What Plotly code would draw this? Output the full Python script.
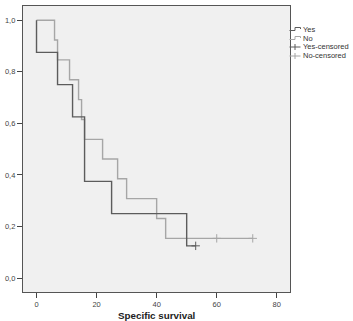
import plotly.graph_objects as go

# ---- data ----
yes_time = [0, 0, 7, 12, 16, 25, 50, 53]
yes_surv = [1.0, 0.875, 0.75, 0.625, 0.375, 0.25, 0.125, 0.125]
yes_cens_time = [53]
yes_cens_surv = [0.125]

no_time = [0, 6, 7, 11, 14, 15, 16, 22, 27, 30, 40, 43, 72]
no_surv = [1.0, 0.923, 0.846, 0.769, 0.692, 0.615, 0.538, 0.462, 0.385, 0.308, 0.231, 0.154, 0.154]
no_cens_time = [60, 72]
no_cens_surv = [0.154, 0.154]

legend_labels = ["Yes", "No", "Yes-censored", "No-censored"]
x_ticks = [0, 20, 40, 60, 80]
y_ticks = [0.0, 0.2, 0.4, 0.6, 0.8, 1.0]
x_title = "Specific survival"

DARK = "#5c5c5c"
LIGHT = "#a6a6a6"

W, H = 353, 321
L, R, T, B = 23, 63, 6, 29
pw, ph = W - L - R, H - T - B


def px(x):
    return (x - L) / pw


def py(y):
    return (H - B - y) / ph


fig = go.Figure()
fig.add_trace(go.Scatter(x=no_time, y=no_surv, mode="lines", line_shape="hv",
                         line=dict(color=LIGHT, width=1.4), name="No"))
fig.add_trace(go.Scatter(x=yes_time, y=yes_surv, mode="lines", line_shape="hv",
                         line=dict(color=DARK, width=1.4), name="Yes"))
fig.add_trace(go.Scatter(x=no_cens_time, y=no_cens_surv, mode="markers",
                         marker=dict(symbol="cross-thin", size=6,
                                     line=dict(color=LIGHT, width=1)),
                         name="No-censored"))
fig.add_trace(go.Scatter(x=yes_cens_time, y=yes_cens_surv, mode="markers",
                         marker=dict(symbol="cross-thin", size=6,
                                     line=dict(color=DARK, width=1)),
                         name="Yes-censored"))

# ---- manual legend ----
rows = [29, 38, 47, 56]
shapes = []
annotations = []
icon_cols = [DARK, LIGHT, DARK, LIGHT]
for i, (lab, ry) in enumerate(zip(legend_labels, rows)):
    c = icon_cols[i]
    if i < 2:
        pts = [(289.5, ry + 1.5), (295, ry + 1.5), (295, ry - 1.5), (300.5, ry - 1.5), (300.5, ry)]
        path = "M " + " L ".join(f"{px(a)},{py(b)}" for a, b in pts)
        shapes.append(dict(type="path", xref="paper", yref="paper", path=path,
                           line=dict(color=c, width=1)))
    else:
        shapes.append(dict(type="line", xref="paper", yref="paper",
                           x0=px(289.5), x1=px(300.5), y0=py(ry), y1=py(ry),
                           line=dict(color=c, width=1)))
        shapes.append(dict(type="line", xref="paper", yref="paper",
                           x0=px(295), x1=px(295), y0=py(ry - 3), y1=py(ry + 3),
                           line=dict(color=c, width=1)))
    annotations.append(dict(text=lab, xref="paper", yref="paper", x=px(301), y=py(ry),
                            xanchor="left", yanchor="middle", showarrow=False,
                            font=dict(family="Liberation Sans, Arial", size=7.5, color="#333")))

annotations.append(dict(text="<b>" + x_title + "</b>", xref="paper", yref="paper",
                        x=0.5, y=py(315), xanchor="center", yanchor="middle",
                        showarrow=False,
                        font=dict(family="Liberation Sans, Arial", size=9.8, color="#222")))

fig.update_layout(
    width=W, height=H,
    margin=dict(l=L, r=R, t=T, b=B, pad=0),
    paper_bgcolor="white",
    plot_bgcolor="#f0f0f0",
    showlegend=False,
    separators=",.",
    shapes=shapes,
    annotations=annotations,
    font=dict(family="Liberation Sans, Arial", size=7.5, color="#333"),
)
fig.update_xaxes(range=[-4.5, 84.4], tickvals=x_ticks, ticks="outside", ticklen=5,
                 tickcolor="#444", showgrid=False, zeroline=False, showline=True,
                 linecolor="#555", linewidth=1.3, mirror=True,
                 tickfont=dict(size=7.5, color="#444"))
fig.update_yaxes(range=[-0.054, 1.055], tickvals=y_ticks, tickformat=".1f",
                 ticks="outside", ticklen=5, tickcolor="#444", showgrid=False,
                 zeroline=False, showline=True, linecolor="#555", linewidth=1.3,
                 mirror=True, tickfont=dict(size=7.5, color="#444"))

fig.write_html("out.html")
